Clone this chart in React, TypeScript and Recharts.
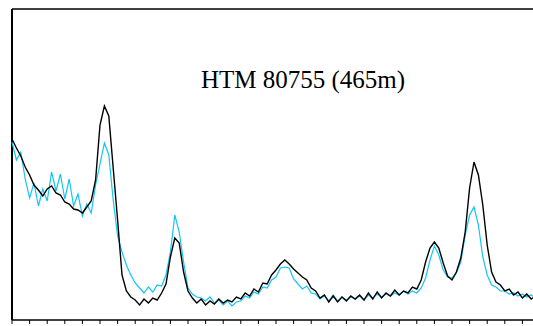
import React from "react";
import { LineChart, Line, XAxis, YAxis, ReferenceLine } from "recharts";

// 2-theta scan, 0.25 deg steps starting at 2 deg
const angleStart = 2;
const angleStep = 0.25;
const axisTicks = [
  2, 3, 4, 5, 6, 7, 8, 9, 10, 11, 12, 13, 14, 15, 16, 17, 18, 19, 20, 21, 22, 23, 24, 25, 26, 27, 28, 29,
  30, 31, 32,
];

const untreated = [
  181, 172, 164, 153, 145, 135, 130, 124, 131, 134,
  127, 125, 118, 116, 111, 110, 107, 113, 119, 140,
  195, 214, 204, 152, 100, 45, 29, 23, 20, 15,
  21, 17, 22, 20, 27, 36, 63, 82, 77, 48,
  29, 22, 17, 21, 15, 19, 16, 21, 17, 20,
  18, 23, 21, 27, 24, 31, 28, 37, 36, 45,
  50, 56, 60, 56, 51, 47, 43, 40, 32, 29,
  22, 25, 18, 24, 18, 23, 19, 24, 21, 25,
  20, 27, 21, 28, 22, 27, 24, 30, 25, 29,
  27, 33, 31, 40, 58, 72, 78, 72, 57, 44,
  40, 48, 62, 88, 132, 158, 145, 115, 75, 48,
  38, 35, 29, 31, 25, 28, 22, 26, 21, 24,
];

const treated = [
  178, 160, 168, 141, 122, 137, 114, 131, 119, 148,
  129, 146, 121, 141, 114, 126, 104, 116, 107, 135,
  156, 177, 165, 120, 84, 68, 55, 45, 37, 32,
  27, 33, 28, 35, 34, 45, 68, 105, 88, 58,
  32, 26, 23, 22, 19, 23, 17, 20, 15, 19,
  14, 18, 19, 24, 22, 28, 26, 33, 32, 40,
  43, 52, 53, 52, 41, 36, 31, 34, 27, 26,
  21, 24, 19, 25, 19, 23, 20, 23, 21, 24,
  20, 25, 22, 26, 23, 26, 24, 27, 25, 29,
  26, 29, 27, 32, 42, 60, 74, 65, 50, 43,
  42, 47, 58, 85, 105, 113, 95, 63, 45, 35,
  33, 29, 29, 26, 27, 24, 26, 23, 25, 22,
];

const yMax = 311;

const data = untreated.map((v, i) => ({
  angle: angleStart + i * angleStep,
  untreated: v,
  treated: treated[i],
}));

// keep the tick marks, drop the labels
const NoLabel = () => <g />;

export default function App() {
  // fixed so the wider-than-window plot never makes the page scroll
  return (
    <div
      style={{ position: "fixed", left: 0, top: 0, width: 533, height: 326, overflow: "hidden", background: "#fff" }}
    >
      <LineChart width={548} height={326} data={data} margin={{ top: 9, right: 8, left: 12, bottom: 0 }}>
        <XAxis
          dataKey="angle"
          type="number"
          domain={[2, 32]}
          ticks={axisTicks}
          interval={0}
          tick={<NoLabel />}
          tickSize={4}
          height={6}
          axisLine={{ stroke: "#000", strokeWidth: 1.5 }}
          tickLine={{ stroke: "#000" }}
        />
        <YAxis domain={[0, yMax]} width={0} tick={false} tickLine={false} axisLine={false} />
        <ReferenceLine y={yMax} stroke="#000" strokeWidth={1.5} />
        <ReferenceLine x={2} stroke="#000" strokeWidth={2} />
        <Line
          type="linear"
          dataKey="treated"
          stroke="#14c4f6"
          strokeWidth={1.2}
          dot={false}
          isAnimationActive={false}
        />
        <Line
          type="linear"
          dataKey="untreated"
          stroke="#000"
          strokeWidth={1.4}
          dot={false}
          isAnimationActive={false}
        />
      </LineChart>
      <div
        style={{
          position: "absolute",
          left: 163,
          top: 66,
          width: 280,
          textAlign: "center",
          fontFamily: '"Liberation Serif", "Times New Roman", serif',
          fontSize: 25,
          color: "#000",
          whiteSpace: "nowrap",
        }}
      >
        HTM 80755 (465m)
      </div>
    </div>
  );
}
